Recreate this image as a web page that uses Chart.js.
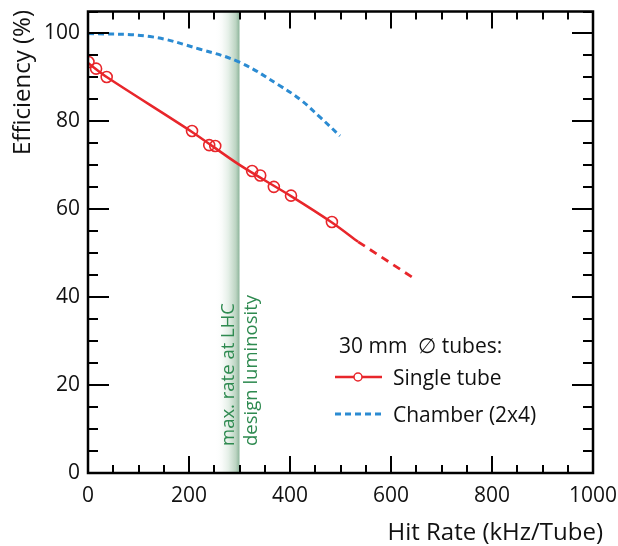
<!DOCTYPE html>
<html>
<head>
<meta charset="utf-8">
<script src="https://cdn.jsdelivr.net/npm/chart.js@4"></script>
<style>
  html, body { margin: 0; padding: 0; background: #fff; }
  #wrap { width: 618px; height: 546px; }
</style>
</head>
<body>
<div id="wrap"><canvas id="chart" width="618" height="546"></canvas></div>
<script>
// measured single tube efficiency (hit rate kHz/tube, efficiency %)
var singleRate = [1, 16, 37, 206, 240, 252, 325, 341, 368, 402, 483];
var singleEff  = [93.5, 92.0, 90.1, 77.8, 74.6, 74.4, 68.7, 67.7, 65.1, 63.1, 57.1];

// fit through the single tube points, solid part then extrapolation
var fitRate = [0, 37, 206, 300, 402, 483, 535];
var fitEff  = [93.3, 90.1, 77.6, 70.1, 63.0, 57.0, 52.6];
var extRate = [535, 648];
var extEff  = [52.6, 44.1];

// chamber (2x4) efficiency
var chamberRate = [0, 123, 222, 301, 380, 420, 460, 499];
var chamberEff  = [100, 99.3, 96.4, 93.4, 88.1, 85.0, 80.9, 76.7];

// LHC design luminosity band
var bandFrom = 252;
var bandTo = 300;

var xTicks = [0, 200, 400, 600, 800, 1000];
var yTicks = [0, 20, 40, 60, 80, 100];

var RED = '#e8262b';
var BLUE = '#2b8bd2';
var GREEN = '#2e8a50';
var FONT = '"Open Sans", sans-serif';

function pts(xs, ys) {
    var out = [];
    for (var i = 0; i < xs.length; i++) out.push({x: xs[i], y: ys[i]});
    return out;
}

function noPad(s) {
    s.paddingLeft = 0; s.paddingRight = 0;
    s.paddingTop = 0; s.paddingBottom = 0;
}

const decor = {
    id: 'decor',
    beforeDatasetsDraw: (chart) => {
        const ctx = chart.ctx;
        const xs = chart.scales.x;
        const a = chart.chartArea;
        const x0 = xs.getPixelForValue(bandFrom), x1 = xs.getPixelForValue(bandTo);
        const g = ctx.createLinearGradient(x0, 0, x1, 0);
        g.addColorStop(0, 'rgba(255,255,255,0)');
        g.addColorStop(0.55, '#e3eee6');
        g.addColorStop(0.85, '#bcd4c2');
        g.addColorStop(1, '#8cb49a');
        ctx.save();
        ctx.fillStyle = g;
        ctx.fillRect(x0, a.top, x1 - x0, a.bottom - a.top);
        ctx.restore();
    },
    afterDraw: (chart) => {
        const ctx = chart.ctx;
        const xs = chart.scales.x, ys = chart.scales.y;
        const a = chart.chartArea;
        ctx.save();
        // inward ticks on all four sides
        ctx.strokeStyle = '#000';
        ctx.lineWidth = 2;
        ctx.beginPath();
        for (var v = 0; v <= 1000; v += 50) {
            var px = Math.round(xs.getPixelForValue(v));
            var len = (v % 200 === 0) ? 17 : 8;
            ctx.moveTo(px, a.bottom); ctx.lineTo(px, a.bottom - len);
            ctx.moveTo(px, a.top); ctx.lineTo(px, a.top + len);
        }
        for (var w = 0; w <= 105; w += 5) {
            var py = Math.round(ys.getPixelForValue(w));
            var ln = (w % 20 === 0) ? 21 : 10;
            ctx.moveTo(a.left, py); ctx.lineTo(a.left + ln, py);
            ctx.moveTo(a.right, py); ctx.lineTo(a.right - ln, py);
        }
        ctx.stroke();
        ctx.lineWidth = 2.5;
        ctx.strokeRect(a.left, a.top, a.right - a.left, a.bottom - a.top);

        // axis titles
        ctx.fillStyle = '#111';
        ctx.font = '24px ' + FONT;
        ctx.textAlign = 'right';
        ctx.textBaseline = 'alphabetic';
        ctx.fillText('Hit Rate (kHz/Tube)', 603, 540);
        ctx.save();
        ctx.translate(30, 10);
        ctx.rotate(-Math.PI / 2);
        ctx.textAlign = 'right';
        ctx.fillText('Efficiency (%)', 0, 0);
        ctx.restore();

        // band labels
        ctx.fillStyle = GREEN;
        ctx.font = '18.5px ' + FONT;
        ctx.textAlign = 'left';
        ctx.save();
        ctx.translate(234, 446);
        ctx.rotate(-Math.PI / 2);
        ctx.fillText('max. rate at LHC', 0, 0);
        ctx.restore();
        ctx.save();
        ctx.translate(257, 446);
        ctx.rotate(-Math.PI / 2);
        ctx.fillText('design luminosity', 0, 0);
        ctx.restore();

        // legend
        ctx.fillStyle = '#111';
        ctx.font = '21px ' + FONT;
        ctx.fillText('30 mm  \u2205 tubes:', 339, 353);
        ctx.fillText('Single tube', 393, 385);
        ctx.fillText('Chamber (2x4)', 393, 422);
        ctx.strokeStyle = RED;
        ctx.lineWidth = 2.5;
        ctx.beginPath();
        ctx.moveTo(335, 377); ctx.lineTo(382, 377);
        ctx.stroke();
        ctx.fillStyle = '#fff';
        ctx.lineWidth = 1.5;
        ctx.beginPath();
        ctx.arc(358, 377, 4, 0, 2 * Math.PI);
        ctx.fill(); ctx.stroke();
        ctx.strokeStyle = BLUE;
        ctx.lineWidth = 3;
        ctx.setLineDash([6, 4]);
        ctx.beginPath();
        ctx.moveTo(335, 414); ctx.lineTo(382, 414);
        ctx.stroke();
        ctx.restore();
    }
};

var ctx = document.getElementById('chart').getContext('2d');
var myChart = new Chart(ctx, {
    type: 'scatter',
    data: {
        datasets: [{
            label: 'Single tube',
            data: pts(singleRate, singleEff),
            showLine: false,
            pointStyle: 'circle',
            pointRadius: 5.5,
            pointBorderWidth: 1.6,
            borderColor: RED,
            backgroundColor: 'rgba(0,0,0,0)',
        }, {
            label: 'fit',
            data: pts(fitRate, fitEff),
            showLine: true,
            pointRadius: 0,
            borderColor: RED,
            borderWidth: 2.5,
            tension: 0.3,
        }, {
            label: 'extrapolation',
            data: pts(extRate, extEff),
            showLine: true,
            pointRadius: 0,
            borderColor: RED,
            borderWidth: 2.8,
            borderDash: [8, 6],
        }, {
            label: 'Chamber (2x4)',
            data: pts(chamberRate, chamberEff),
            showLine: true,
            pointRadius: 0,
            borderColor: BLUE,
            borderWidth: 3,
            borderDash: [6, 4],
            tension: 0.4,
        }]
    },
    options: {
        responsive: false,
        animation: false,
        layout: { padding: { left: 0, top: 11.5, right: 25, bottom: 0 } },
        scales: {
            x: {
                type: 'linear',
                min: 0,
                max: 1000,
                grid: { display: false, drawTicks: false },
                border: { display: false },
                afterBuildTicks: (s) => { s.ticks = xTicks.map(v => ({value: v})); },
                afterFit: (s) => { s.height = 73; noPad(s); },
                ticks: {
                    padding: 10,
                    color: '#111',
                    font: { family: FONT, size: 21 },
                    maxRotation: 0,
                    callback: (v) => String(v),
                }
            },
            y: {
                type: 'linear',
                min: 0,
                max: 105,
                grid: { display: false, drawTicks: false },
                border: { display: false },
                afterBuildTicks: (s) => { s.ticks = yTicks.map(v => ({value: v})); },
                afterFit: (s) => { s.width = 88; noPad(s); },
                ticks: {
                    padding: 8,
                    color: '#111',
                    font: { family: FONT, size: 21 },
                    callback: (v) => String(v),
                }
            }
        },
        plugins: {
            legend: { display: false },
            tooltip: { enabled: false }
        }
    },
    plugins: [decor],
});
</script>
</body>
</html>
